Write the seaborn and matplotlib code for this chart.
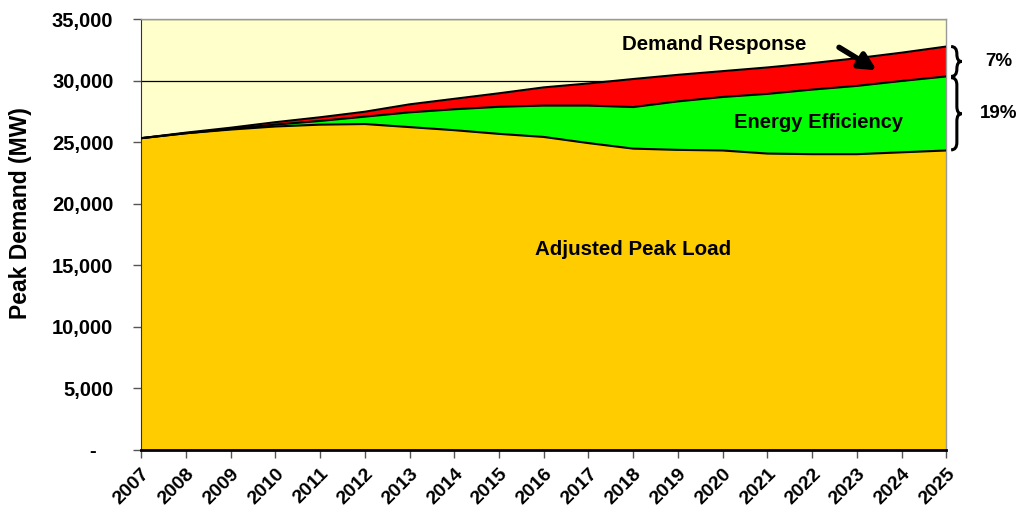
import numpy as np
import pandas as pd
import seaborn as sns
import matplotlib.pyplot as plt
from matplotlib.path import Path
from matplotlib.patches import PathPatch
from matplotlib.ticker import FuncFormatter
import matplotlib.transforms as mtransforms

# Values (MW)
years = [2007, 2008, 2009, 2010, 2011, 2012, 2013, 2014, 2015, 2016,
         2017, 2018, 2019, 2020, 2021, 2022, 2023, 2024, 2025]
peak_load = [25350, 25750, 26050, 26300, 26450, 26500, 26250, 26000, 25700, 25450,
             24950, 24500, 24400, 24350, 24100, 24050, 24050, 24200, 24350]
energy_eff = [0, 0, 50, 150, 300, 600, 1200, 1700, 2200, 2550,
              3050, 3380, 3940, 4350, 4850, 5250, 5550, 5800, 6020]
demand_resp = [0, 50, 100, 200, 300, 400, 650, 850, 1100, 1480,
               1800, 2280, 2160, 2100, 2150, 2150, 2250, 2300, 2430]
pct_labels = ['7%', '19%']

df = pd.DataFrame({'year': years, 'load': peak_load, 'ee': energy_eff, 'dr': demand_resp})
df['ee_top'] = df['load'] + df['ee']
df['dr_top'] = df['ee_top'] + df['dr']

sns.set_style("white")
plt.rcParams['font.family'] = ['Liberation Sans', 'DejaVu Sans']
plt.rcParams['font.weight'] = 'bold'
plt.rcParams['text.color'] = 'black'
plt.rcParams['axes.labelcolor'] = 'black'
plt.rcParams['xtick.color'] = 'black'
plt.rcParams['ytick.color'] = 'black'

fig = plt.figure(figsize=(10.23, 5.21), dpi=100)
ax = fig.add_axes([0.138, 0.1363, 0.787, 0.8263])
ax.set_facecolor('#FFFFCC')

# gridlines below the areas
ax.set_axisbelow(True)
ax.yaxis.grid(True, color='black', linewidth=0.9)

ax.fill_between(df['year'], 0, df['load'], color='#FFCC00', lw=0, zorder=2)
ax.fill_between(df['year'], df['load'], df['ee_top'], color='#00FF00', lw=0, zorder=2)
ax.fill_between(df['year'], df['ee_top'], df['dr_top'], color='#FF0000', lw=0, zorder=2)
for col in ['load', 'ee_top', 'dr_top']:
    sns.lineplot(data=df, x='year', y=col, color='black', linewidth=1.5, ax=ax, zorder=3)

ax.set_xlim(2007, 2025)
ax.set_ylim(0, 35000)
ax.set_xticks(years)
ax.set_xticklabels([str(y) for y in years], rotation=45, ha='right',
                   rotation_mode='anchor', fontsize=14, fontweight='bold')
ax.set_yticks(range(0, 35001, 5000))
ax.yaxis.set_major_formatter(FuncFormatter(lambda v, p: '-   ' if v == 0 else f'{v:,.0f}'))
for lab in ax.get_yticklabels():
    lab.set_fontweight('bold')
ax.tick_params(axis='y', labelsize=14.5, length=6, width=1, color='#555555', pad=14, direction='out', left=True)
ax.tick_params(axis='x', length=6, width=1, color='#555555', pad=5, direction='out', bottom=True)

ax.set_xlabel('')
ax.set_ylabel('Peak Demand (MW)', fontsize=16.5, fontweight='bold')
ax.yaxis.set_label_coords(-0.135, 0.55)

for side in ['top', 'right']:
    ax.spines[side].set_color('#999999')
    ax.spines[side].set_linewidth(1)
ax.spines['left'].set_color('#333333')
ax.spines['bottom'].set_color('black')
ax.spines['bottom'].set_linewidth(2)
ax.spines['bottom'].set_zorder(4)

ax.text(2019.8, 32950, 'Demand Response', ha='center', va='center', fontsize=14.8, fontweight='bold')
ax.text(2022.15, 26600, 'Energy Efficiency', ha='center', va='center', fontsize=14.5, fontweight='bold')
ax.text(2018.0, 16300, 'Adjusted Peak Load', ha='center', va='center', fontsize=14.8, fontweight='bold')
ax.annotate('', xy=(2023.5, 30750), xytext=(2022.55, 32850),
            arrowprops=dict(arrowstyle='-|>,head_length=1.0,head_width=0.5',
                            color='black', lw=4), zorder=5)


# curly braces outside the plot, spanning the last-year stacks
def brace(y_bot, y_top, label, dx):
    trans = mtransforms.blended_transform_factory(ax.transAxes, ax.transData)
    x0 = 1.006
    w = 0.013
    ym = (y_bot + y_top) / 2
    r = min(600, (y_top - y_bot) / 4)
    verts = [(x0, y_top), (x0 + w * 0.55, y_top), (x0 + w * 0.55, y_top - r),
             (x0 + w * 0.55, ym + r), (x0 + w * 0.55, ym), (x0 + w, ym),
             (x0 + w * 0.55, ym), (x0 + w * 0.55, ym - r),
             (x0 + w * 0.55, y_bot + r), (x0 + w * 0.55, y_bot), (x0, y_bot)]
    codes = [Path.MOVETO, Path.CURVE3, Path.CURVE3,
             Path.LINETO, Path.CURVE3, Path.CURVE3,
             Path.CURVE3, Path.CURVE3,
             Path.LINETO, Path.CURVE3, Path.CURVE3]
    patch = PathPatch(Path(verts, codes), transform=trans, fill=False,
                      lw=2.2, edgecolor='black', clip_on=False)
    ax.add_patch(patch)
    ax.text(x0 + dx, ym, label, transform=trans, ha='left', va='center',
            fontsize=13.5, fontweight='bold')


brace(df['ee_top'].iloc[-1], df['dr_top'].iloc[-1], pct_labels[0], 0.042)
brace(df['load'].iloc[-1] + 50, df['ee_top'].iloc[-1] - 100, pct_labels[1], 0.036)

fig.savefig('out.png', dpi=100)
